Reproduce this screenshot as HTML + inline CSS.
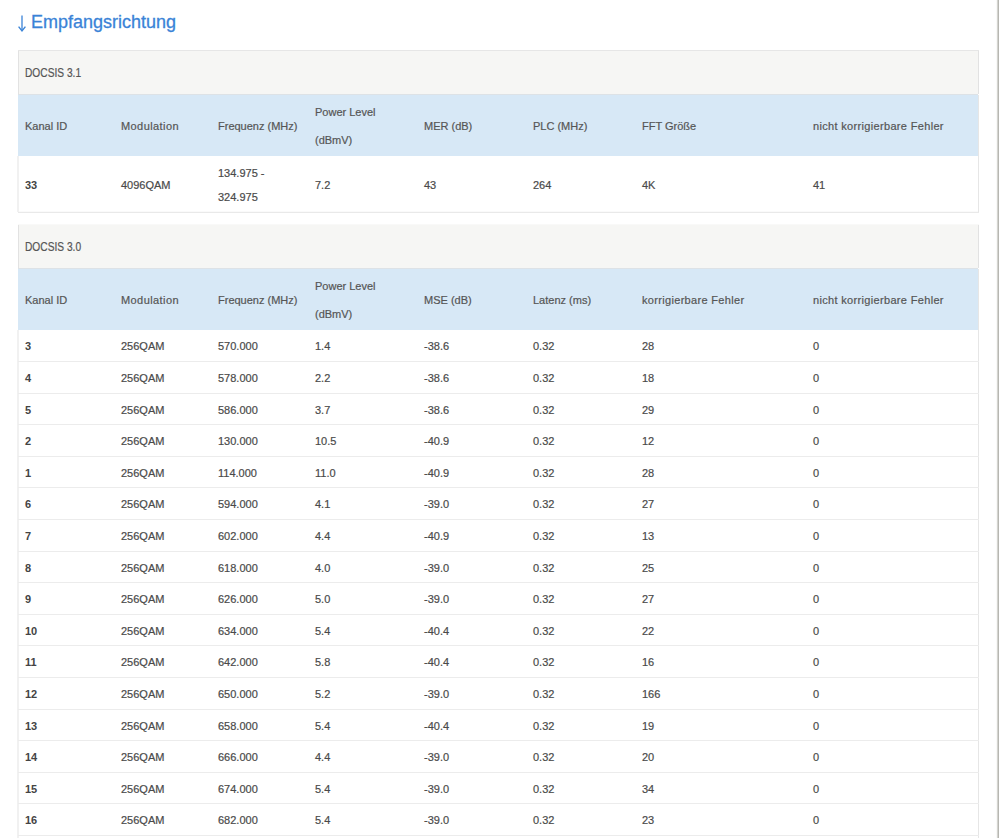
<!DOCTYPE html><html><head><meta charset="utf-8"><style>
*{margin:0;padding:0;box-sizing:border-box}
html,body{width:999px;height:838px;overflow:hidden;background:#fff}
body{position:relative;font-family:"Liberation Sans",sans-serif;font-size:11px;color:#4a4a4a}
.a{position:absolute;white-space:nowrap}
.t{position:absolute;white-space:nowrap}
.h{color:#555}
.b{font-weight:bold;color:#444}
.t{-webkit-text-stroke:0.2px currentColor}
.t.b{-webkit-text-stroke:0}
</style></head><body>
<svg class="a" style="left:0;top:0" width="40" height="40" viewBox="0 0 40 40"><path d="M22 15.5V30.2" stroke="#3a83d7" stroke-width="1.3" fill="none"/><path d="M18.6 26.6L22 30.9L25.4 26.6" stroke="#3a83d7" stroke-width="1.4" fill="none"/></svg>
<div class="a" style="left:31px;top:8px;font-size:18px;line-height:28px;color:#3a83d7;-webkit-text-stroke:0.3px #3a83d7">Empfangsrichtung</div>
<div class="a" style="left:18px;top:50px;width:961px;height:1px;background:#e6e6e6"></div>
<div class="a" style="left:19px;top:51px;width:959px;height:43px;background:#f6f6f4"></div>
<div class="a" style="left:18px;top:51px;width:1px;height:43px;background:#e2e2e2"></div>
<div class="a" style="left:978px;top:51px;width:1px;height:43px;background:#e2e2e2"></div>
<div class="a" style="left:18px;top:94px;width:960px;height:1px;background:#dde2e6"></div>
<div class="a" style="left:18px;top:95px;width:960px;height:61px;background:#d7e8f6"></div>
<div class="a" style="left:978px;top:95px;width:1px;height:61px;background:#e6e6e6"></div>
<div class="t h" style="left:25px;top:51.5px;line-height:43px;font-size:12px;transform:scaleX(0.85);transform-origin:0 0">DOCSIS 3.1</div>
<div class="t h" style="left:25px;top:96.0px;line-height:61px;">Kanal ID</div>
<div class="t h" style="left:121px;top:96.0px;line-height:61px;letter-spacing:0.42px;">Modulation</div>
<div class="t h" style="left:218px;top:96.0px;line-height:61px;">Frequenz (MHz)</div>
<div class="t h" style="left:315px;top:99.2px;line-height:27.4px">Power Level<br>(dBmV)</div>
<div class="t h" style="left:424px;top:96.0px;line-height:61px;">MER (dB)</div>
<div class="t h" style="left:533px;top:96.0px;line-height:61px;">PLC (MHz)</div>
<div class="t h" style="left:642px;top:96.0px;line-height:61px;">FFT Größe</div>
<div class="t h" style="left:813px;top:96.0px;line-height:61px;letter-spacing:0.33px;">nicht korrigierbare Fehler</div>
<div class="a" style="left:17px;top:156px;width:2px;height:56px;background:#f1f1f1"></div>
<div class="a" style="left:978px;top:156px;width:1px;height:56px;background:#e6e6e6"></div>
<div class="a" style="left:18px;top:212px;width:961px;height:1px;background:#e9e9e9"></div>
<div class="a" style="left:19px;top:211px;width:959px;height:1px;background:#fafafa"></div>
<div class="t b" style="left:25px;top:157.2px;line-height:56px">33</div>
<div class="t" style="left:121px;top:157.2px;line-height:56px">4096QAM</div>
<div class="t" style="left:218px;top:160.5px;line-height:24.5px">134.975 -<br>324.975</div>
<div class="t" style="left:315px;top:157.2px;line-height:56px">7.2</div>
<div class="t" style="left:424px;top:157.2px;line-height:56px">43</div>
<div class="t" style="left:533px;top:157.2px;line-height:56px">264</div>
<div class="t" style="left:642px;top:157.2px;line-height:56px">4K</div>
<div class="t" style="left:813px;top:157.2px;line-height:56px">41</div>
<div class="a" style="left:18px;top:224px;width:961px;height:1px;background:#f9f9f8"></div>
<div class="a" style="left:19px;top:225px;width:959px;height:43px;background:#f6f6f4"></div>
<div class="a" style="left:18px;top:225px;width:1px;height:43px;background:#e2e2e2"></div>
<div class="a" style="left:978px;top:225px;width:1px;height:43px;background:#e2e2e2"></div>
<div class="a" style="left:18px;top:268px;width:960px;height:1px;background:#dde2e6"></div>
<div class="a" style="left:18px;top:269px;width:960px;height:61px;background:#d7e8f6"></div>
<div class="a" style="left:978px;top:269px;width:1px;height:61px;background:#e6e6e6"></div>
<div class="t h" style="left:25px;top:225.5px;line-height:43px;font-size:12px;transform:scaleX(0.85);transform-origin:0 0">DOCSIS 3.0</div>
<div class="t h" style="left:25px;top:270.0px;line-height:61px;">Kanal ID</div>
<div class="t h" style="left:121px;top:270.0px;line-height:61px;letter-spacing:0.42px;">Modulation</div>
<div class="t h" style="left:218px;top:270.0px;line-height:61px;">Frequenz (MHz)</div>
<div class="t h" style="left:315px;top:273.2px;line-height:27.4px">Power Level<br>(dBmV)</div>
<div class="t h" style="left:424px;top:270.0px;line-height:61px;">MSE (dB)</div>
<div class="t h" style="left:533px;top:270.0px;line-height:61px;">Latenz (ms)</div>
<div class="t h" style="left:642px;top:270.0px;line-height:61px;letter-spacing:0.32px;">korrigierbare Fehler</div>
<div class="t h" style="left:813px;top:270.0px;line-height:61px;letter-spacing:0.33px;">nicht korrigierbare Fehler</div>
<div class="a" style="left:17px;top:330px;width:2px;height:508px;background:#f1f1f1"></div>
<div class="a" style="left:978px;top:330px;width:1px;height:508px;background:#e6e6e6"></div>
<div class="t b" style="left:25px;top:331.30px;line-height:30.60px">3</div>
<div class="t" style="left:121px;top:331.30px;line-height:30.60px">256QAM</div>
<div class="t" style="left:218px;top:331.30px;line-height:30.60px">570.000</div>
<div class="t" style="left:315px;top:331.30px;line-height:30.60px">1.4</div>
<div class="t" style="left:424px;top:331.30px;line-height:30.60px">-38.6</div>
<div class="t" style="left:533px;top:331.30px;line-height:30.60px">0.32</div>
<div class="t" style="left:642px;top:331.30px;line-height:30.60px">28</div>
<div class="t" style="left:813px;top:331.30px;line-height:30.60px">0</div>
<div class="a" style="left:18px;top:361px;width:961px;height:1px;background:#ececec"></div>
<div class="t b" style="left:25px;top:362.90px;line-height:30.60px">4</div>
<div class="t" style="left:121px;top:362.90px;line-height:30.60px">256QAM</div>
<div class="t" style="left:218px;top:362.90px;line-height:30.60px">578.000</div>
<div class="t" style="left:315px;top:362.90px;line-height:30.60px">2.2</div>
<div class="t" style="left:424px;top:362.90px;line-height:30.60px">-38.6</div>
<div class="t" style="left:533px;top:362.90px;line-height:30.60px">0.32</div>
<div class="t" style="left:642px;top:362.90px;line-height:30.60px">18</div>
<div class="t" style="left:813px;top:362.90px;line-height:30.60px">0</div>
<div class="a" style="left:18px;top:393px;width:961px;height:1px;background:#ececec"></div>
<div class="t b" style="left:25px;top:394.50px;line-height:30.60px">5</div>
<div class="t" style="left:121px;top:394.50px;line-height:30.60px">256QAM</div>
<div class="t" style="left:218px;top:394.50px;line-height:30.60px">586.000</div>
<div class="t" style="left:315px;top:394.50px;line-height:30.60px">3.7</div>
<div class="t" style="left:424px;top:394.50px;line-height:30.60px">-38.6</div>
<div class="t" style="left:533px;top:394.50px;line-height:30.60px">0.32</div>
<div class="t" style="left:642px;top:394.50px;line-height:30.60px">29</div>
<div class="t" style="left:813px;top:394.50px;line-height:30.60px">0</div>
<div class="a" style="left:18px;top:424px;width:961px;height:1px;background:#ececec"></div>
<div class="t b" style="left:25px;top:426.10px;line-height:30.60px">2</div>
<div class="t" style="left:121px;top:426.10px;line-height:30.60px">256QAM</div>
<div class="t" style="left:218px;top:426.10px;line-height:30.60px">130.000</div>
<div class="t" style="left:315px;top:426.10px;line-height:30.60px">10.5</div>
<div class="t" style="left:424px;top:426.10px;line-height:30.60px">-40.9</div>
<div class="t" style="left:533px;top:426.10px;line-height:30.60px">0.32</div>
<div class="t" style="left:642px;top:426.10px;line-height:30.60px">12</div>
<div class="t" style="left:813px;top:426.10px;line-height:30.60px">0</div>
<div class="a" style="left:18px;top:456px;width:961px;height:1px;background:#ececec"></div>
<div class="t b" style="left:25px;top:457.70px;line-height:30.60px">1</div>
<div class="t" style="left:121px;top:457.70px;line-height:30.60px">256QAM</div>
<div class="t" style="left:218px;top:457.70px;line-height:30.60px">114.000</div>
<div class="t" style="left:315px;top:457.70px;line-height:30.60px">11.0</div>
<div class="t" style="left:424px;top:457.70px;line-height:30.60px">-40.9</div>
<div class="t" style="left:533px;top:457.70px;line-height:30.60px">0.32</div>
<div class="t" style="left:642px;top:457.70px;line-height:30.60px">28</div>
<div class="t" style="left:813px;top:457.70px;line-height:30.60px">0</div>
<div class="a" style="left:18px;top:487px;width:961px;height:1px;background:#ececec"></div>
<div class="t b" style="left:25px;top:489.30px;line-height:30.60px">6</div>
<div class="t" style="left:121px;top:489.30px;line-height:30.60px">256QAM</div>
<div class="t" style="left:218px;top:489.30px;line-height:30.60px">594.000</div>
<div class="t" style="left:315px;top:489.30px;line-height:30.60px">4.1</div>
<div class="t" style="left:424px;top:489.30px;line-height:30.60px">-39.0</div>
<div class="t" style="left:533px;top:489.30px;line-height:30.60px">0.32</div>
<div class="t" style="left:642px;top:489.30px;line-height:30.60px">27</div>
<div class="t" style="left:813px;top:489.30px;line-height:30.60px">0</div>
<div class="a" style="left:18px;top:519px;width:961px;height:1px;background:#ececec"></div>
<div class="t b" style="left:25px;top:520.90px;line-height:30.60px">7</div>
<div class="t" style="left:121px;top:520.90px;line-height:30.60px">256QAM</div>
<div class="t" style="left:218px;top:520.90px;line-height:30.60px">602.000</div>
<div class="t" style="left:315px;top:520.90px;line-height:30.60px">4.4</div>
<div class="t" style="left:424px;top:520.90px;line-height:30.60px">-40.9</div>
<div class="t" style="left:533px;top:520.90px;line-height:30.60px">0.32</div>
<div class="t" style="left:642px;top:520.90px;line-height:30.60px">13</div>
<div class="t" style="left:813px;top:520.90px;line-height:30.60px">0</div>
<div class="a" style="left:18px;top:551px;width:961px;height:1px;background:#ececec"></div>
<div class="t b" style="left:25px;top:552.50px;line-height:30.60px">8</div>
<div class="t" style="left:121px;top:552.50px;line-height:30.60px">256QAM</div>
<div class="t" style="left:218px;top:552.50px;line-height:30.60px">618.000</div>
<div class="t" style="left:315px;top:552.50px;line-height:30.60px">4.0</div>
<div class="t" style="left:424px;top:552.50px;line-height:30.60px">-39.0</div>
<div class="t" style="left:533px;top:552.50px;line-height:30.60px">0.32</div>
<div class="t" style="left:642px;top:552.50px;line-height:30.60px">25</div>
<div class="t" style="left:813px;top:552.50px;line-height:30.60px">0</div>
<div class="a" style="left:18px;top:582px;width:961px;height:1px;background:#ececec"></div>
<div class="t b" style="left:25px;top:584.10px;line-height:30.60px">9</div>
<div class="t" style="left:121px;top:584.10px;line-height:30.60px">256QAM</div>
<div class="t" style="left:218px;top:584.10px;line-height:30.60px">626.000</div>
<div class="t" style="left:315px;top:584.10px;line-height:30.60px">5.0</div>
<div class="t" style="left:424px;top:584.10px;line-height:30.60px">-39.0</div>
<div class="t" style="left:533px;top:584.10px;line-height:30.60px">0.32</div>
<div class="t" style="left:642px;top:584.10px;line-height:30.60px">27</div>
<div class="t" style="left:813px;top:584.10px;line-height:30.60px">0</div>
<div class="a" style="left:18px;top:614px;width:961px;height:1px;background:#ececec"></div>
<div class="t b" style="left:25px;top:615.70px;line-height:30.60px">10</div>
<div class="t" style="left:121px;top:615.70px;line-height:30.60px">256QAM</div>
<div class="t" style="left:218px;top:615.70px;line-height:30.60px">634.000</div>
<div class="t" style="left:315px;top:615.70px;line-height:30.60px">5.4</div>
<div class="t" style="left:424px;top:615.70px;line-height:30.60px">-40.4</div>
<div class="t" style="left:533px;top:615.70px;line-height:30.60px">0.32</div>
<div class="t" style="left:642px;top:615.70px;line-height:30.60px">22</div>
<div class="t" style="left:813px;top:615.70px;line-height:30.60px">0</div>
<div class="a" style="left:18px;top:645px;width:961px;height:1px;background:#ececec"></div>
<div class="t b" style="left:25px;top:647.30px;line-height:30.60px">11</div>
<div class="t" style="left:121px;top:647.30px;line-height:30.60px">256QAM</div>
<div class="t" style="left:218px;top:647.30px;line-height:30.60px">642.000</div>
<div class="t" style="left:315px;top:647.30px;line-height:30.60px">5.8</div>
<div class="t" style="left:424px;top:647.30px;line-height:30.60px">-40.4</div>
<div class="t" style="left:533px;top:647.30px;line-height:30.60px">0.32</div>
<div class="t" style="left:642px;top:647.30px;line-height:30.60px">16</div>
<div class="t" style="left:813px;top:647.30px;line-height:30.60px">0</div>
<div class="a" style="left:18px;top:677px;width:961px;height:1px;background:#ececec"></div>
<div class="t b" style="left:25px;top:678.90px;line-height:30.60px">12</div>
<div class="t" style="left:121px;top:678.90px;line-height:30.60px">256QAM</div>
<div class="t" style="left:218px;top:678.90px;line-height:30.60px">650.000</div>
<div class="t" style="left:315px;top:678.90px;line-height:30.60px">5.2</div>
<div class="t" style="left:424px;top:678.90px;line-height:30.60px">-39.0</div>
<div class="t" style="left:533px;top:678.90px;line-height:30.60px">0.32</div>
<div class="t" style="left:642px;top:678.90px;line-height:30.60px">166</div>
<div class="t" style="left:813px;top:678.90px;line-height:30.60px">0</div>
<div class="a" style="left:18px;top:709px;width:961px;height:1px;background:#ececec"></div>
<div class="t b" style="left:25px;top:710.50px;line-height:30.60px">13</div>
<div class="t" style="left:121px;top:710.50px;line-height:30.60px">256QAM</div>
<div class="t" style="left:218px;top:710.50px;line-height:30.60px">658.000</div>
<div class="t" style="left:315px;top:710.50px;line-height:30.60px">5.4</div>
<div class="t" style="left:424px;top:710.50px;line-height:30.60px">-40.4</div>
<div class="t" style="left:533px;top:710.50px;line-height:30.60px">0.32</div>
<div class="t" style="left:642px;top:710.50px;line-height:30.60px">19</div>
<div class="t" style="left:813px;top:710.50px;line-height:30.60px">0</div>
<div class="a" style="left:18px;top:740px;width:961px;height:1px;background:#ececec"></div>
<div class="t b" style="left:25px;top:742.10px;line-height:30.60px">14</div>
<div class="t" style="left:121px;top:742.10px;line-height:30.60px">256QAM</div>
<div class="t" style="left:218px;top:742.10px;line-height:30.60px">666.000</div>
<div class="t" style="left:315px;top:742.10px;line-height:30.60px">4.4</div>
<div class="t" style="left:424px;top:742.10px;line-height:30.60px">-39.0</div>
<div class="t" style="left:533px;top:742.10px;line-height:30.60px">0.32</div>
<div class="t" style="left:642px;top:742.10px;line-height:30.60px">20</div>
<div class="t" style="left:813px;top:742.10px;line-height:30.60px">0</div>
<div class="a" style="left:18px;top:772px;width:961px;height:1px;background:#ececec"></div>
<div class="t b" style="left:25px;top:773.70px;line-height:30.60px">15</div>
<div class="t" style="left:121px;top:773.70px;line-height:30.60px">256QAM</div>
<div class="t" style="left:218px;top:773.70px;line-height:30.60px">674.000</div>
<div class="t" style="left:315px;top:773.70px;line-height:30.60px">5.4</div>
<div class="t" style="left:424px;top:773.70px;line-height:30.60px">-39.0</div>
<div class="t" style="left:533px;top:773.70px;line-height:30.60px">0.32</div>
<div class="t" style="left:642px;top:773.70px;line-height:30.60px">34</div>
<div class="t" style="left:813px;top:773.70px;line-height:30.60px">0</div>
<div class="a" style="left:18px;top:803px;width:961px;height:1px;background:#ececec"></div>
<div class="t b" style="left:25px;top:805.30px;line-height:30.60px">16</div>
<div class="t" style="left:121px;top:805.30px;line-height:30.60px">256QAM</div>
<div class="t" style="left:218px;top:805.30px;line-height:30.60px">682.000</div>
<div class="t" style="left:315px;top:805.30px;line-height:30.60px">5.4</div>
<div class="t" style="left:424px;top:805.30px;line-height:30.60px">-39.0</div>
<div class="t" style="left:533px;top:805.30px;line-height:30.60px">0.32</div>
<div class="t" style="left:642px;top:805.30px;line-height:30.60px">23</div>
<div class="t" style="left:813px;top:805.30px;line-height:30.60px">0</div>
<div class="a" style="left:18px;top:835px;width:961px;height:1px;background:#ececec"></div>
<div class="a" style="left:996px;top:0px;width:1px;height:838px;background:#f9f9f8"></div>
<div class="a" style="left:997px;top:0px;width:1px;height:838px;background:#d4d4d0"></div>
<div class="a" style="left:998px;top:0px;width:1px;height:838px;background:#b7b7b2"></div>
</body></html>
